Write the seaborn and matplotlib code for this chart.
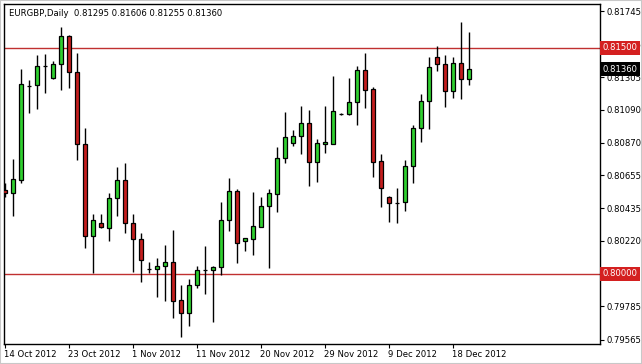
import numpy as np
import pandas as pd
import matplotlib
matplotlib.use("Agg")
import matplotlib.pyplot as plt
import matplotlib.transforms as mtrans
import seaborn as sns

# ---------------- data ----------------
dates = pd.bdate_range("2012-10-14", periods=59, freq="C",
                       weekmask="Sun Mon Tue Wed Thu Fri")

opens = [0.80558, 0.80538, 0.80624, 0.81248, 0.81254, 0.81380, 0.81301, 0.81394, 0.81580, 0.81341,
         0.80863, 0.80252, 0.80338, 0.80305, 0.80504, 0.80624, 0.80338, 0.80232, 0.80033, 0.80033,
         0.80053, 0.80080, 0.79827, 0.79741, 0.79927, 0.80027, 0.80027, 0.80046, 0.80358, 0.80551,
         0.80219, 0.80232, 0.80312, 0.80451, 0.80531, 0.80770, 0.80869, 0.80916, 0.81002, 0.80743,
         0.80863, 0.80863, 0.81062, 0.81062, 0.81142, 0.81354, 0.81228, 0.80750, 0.80511, 0.80471,
         0.80478, 0.80717, 0.80969, 0.81148, 0.81440, 0.81394, 0.81215, 0.81400, 0.81295]
highs = [0.80604, 0.80763, 0.81361, 0.81288, 0.81454, 0.81460, 0.81414, 0.81639, 0.81585, 0.81467,
         0.80969, 0.80398, 0.80398, 0.80538, 0.80710, 0.80737, 0.80398, 0.80272, 0.80080, 0.80106,
         0.80192, 0.80292, 0.79927, 0.79967, 0.80053, 0.80186, 0.80053, 0.80478, 0.80637, 0.80564,
         0.80239, 0.80544, 0.80511, 0.80564, 0.80843, 0.81075, 0.80956, 0.81115, 0.81088, 0.80896,
         0.81115, 0.81314, 0.81069, 0.81301, 0.81380, 0.81467, 0.81241, 0.80796, 0.80515, 0.80571,
         0.80757, 0.80989, 0.81195, 0.81440, 0.81513, 0.81454, 0.81440, 0.81673, 0.81606]
lows = [0.80511, 0.80385, 0.80604, 0.81069, 0.81095, 0.81201, 0.81294, 0.81221, 0.81235, 0.80757,
        0.80173, 0.80007, 0.80305, 0.80219, 0.80385, 0.80272, 0.80013, 0.79947, 0.80007, 0.79847,
        0.79821, 0.79708, 0.79582, 0.79655, 0.79907, 0.79867, 0.79681, 0.79993, 0.80285, 0.80073,
        0.80153, 0.80126, 0.80310, 0.80040, 0.80411, 0.80737, 0.80850, 0.80796, 0.80584, 0.80611,
        0.80803, 0.80860, 0.81055, 0.81055, 0.80989, 0.81102, 0.80644, 0.80445, 0.80345, 0.80338,
        0.80418, 0.80604, 0.80876, 0.80962, 0.81347, 0.81108, 0.81168, 0.81161, 0.81255]
closes = [0.80538, 0.80631, 0.81261, 0.81251, 0.81380, 0.81381, 0.81394, 0.81580, 0.81341, 0.80863,
          0.80252, 0.80358, 0.80310, 0.80504, 0.80624, 0.80338, 0.80232, 0.80093, 0.80034, 0.80053,
          0.80080, 0.79821, 0.79741, 0.79927, 0.80027, 0.80028, 0.80046, 0.80358, 0.80551, 0.80206,
          0.80239, 0.80319, 0.80451, 0.80538, 0.80770, 0.80909, 0.80916, 0.81002, 0.80743, 0.80869,
          0.80876, 0.81082, 0.81063, 0.81142, 0.81354, 0.81221, 0.80743, 0.80571, 0.80471, 0.80472,
          0.80717, 0.80969, 0.81148, 0.81374, 0.81394, 0.81215, 0.81400, 0.81294, 0.81360]

xtick_labels = ["14 Oct 2012", "23 Oct 2012", "1 Nov 2012", "11 Nov 2012",
                "20 Nov 2012", "29 Nov 2012", "9 Dec 2012", "18 Dec 2012"]
ytick_labels = ["0.79565", "0.79785", "0.80000", "0.80220", "0.80435", "0.80655",
                "0.80870", "0.81090", "0.81305", "0.81525", "0.81745"]
level_lines = [0.81500, 0.80000]
title = "EURGBP,Daily  0.81295 0.81606 0.81255 0.81360"

# ---------------- figure ----------------
sns.set_style("white")
plt.rcParams["font.family"] = ["DejaVu Sans"]

df = pd.DataFrame({"date": dates, "open": opens, "high": highs,
                   "low": lows, "close": closes})
df["idx"] = np.arange(len(df))
df["bottom"] = df[["open", "close"]].min(axis=1)
df["height"] = (df["close"] - df["open"]).abs().clip(lower=0.000004)

GREEN = "#2fd02f"
RED = "#c41e1e"
LINE_RED = "#c03030"
df["color"] = np.where(df["close"] > df["open"], GREEN,
                       np.where(df["close"] < df["open"], RED, "black"))

W, H = 642, 364
fig = plt.figure(figsize=(W / 100, H / 100), dpi=100)
ax = fig.add_axes([4 / W, 1 - 344 / H, (600 - 4) / W, (344 - 4) / H])

ymin = 0.8 - 70 / 15067
ymax = 0.8 + 270 / 15067
ax.set_ylim(ymin, ymax)
ax.set_xlim(-0.125, 74.375)

for lv in level_lines:
    ax.axhline(lv, color=LINE_RED, lw=1.0, zorder=1)

ax.vlines(df["idx"], df["low"], df["high"], color="black", lw=1.0, zorder=2)
ax.bar(df["idx"], df["height"], bottom=df["bottom"], width=0.62,
       color=df["color"], edgecolor="black", linewidth=0.9, zorder=3)

FS = 6.1
# x ticks
pos = []
for lab in xtick_labels:
    for i, d in enumerate(df["date"]):
        if f"{d.day} {d.strftime('%b %Y')}" == lab:
            pos.append(i)
ax.set_xticks(pos)
ax.set_xticklabels(xtick_labels, ha="left", fontsize=FS)
ax.tick_params(axis="x", direction="out", length=3, width=0.8, pad=1, colors="black",
               bottom=True)
offset = mtrans.ScaledTranslation(-1 / 100, 0, fig.dpi_scale_trans)
for t in ax.get_xticklabels():
    t.set_transform(t.get_transform() + offset)

# y ticks (right)
yvals = [float(s) for s in ytick_labels]
ax.yaxis.tick_right()
ax.set_yticks(yvals)
ax.set_yticklabels(ytick_labels, fontsize=FS)
ax.tick_params(axis="y", direction="out", length=3, width=0.8, pad=2, colors="black",
               right=True, left=False)
# tick labels fully hidden under the level boxes
for t, v in zip(ax.get_yticklabels(), yvals):
    if any(abs(v - lv) < 1e-9 for lv in level_lines):
        t.set_visible(False)

for s in ax.spines.values():
    s.set_color("black")
    s.set_linewidth(1.0)

# price boxes
box_kw = dict(transform=ax.get_yaxis_transform(), ha="left", va="center",
              fontsize=FS, color="white", zorder=10)
ax.text(1.004, 0.81500, "0.81500",
        bbox=dict(boxstyle="square,pad=0.25", facecolor="#d42020", edgecolor="none"), **box_kw)
ax.text(1.004, closes[-1], f"{closes[-1]:.5f}",
        bbox=dict(boxstyle="square,pad=0.25", facecolor="black", edgecolor="none"), **box_kw)
ax.text(1.004, 0.80000, "0.80000",
        bbox=dict(boxstyle="square,pad=0.25", facecolor="#d42020", edgecolor="none"), **box_kw)

ax.text(9 / W, 1 - 13 / H, title, transform=fig.transFigure, ha="left", va="center",
        fontsize=FS, color="black")

ax.set_xlabel("")
ax.set_ylabel("")
fig.patches.append(plt.Rectangle((0, 0), 1, 1, transform=fig.transFigure, fill=False,
                                 edgecolor="#c8c8c8", lw=1.5))
fig.savefig("out.png", dpi=100, facecolor="white")
